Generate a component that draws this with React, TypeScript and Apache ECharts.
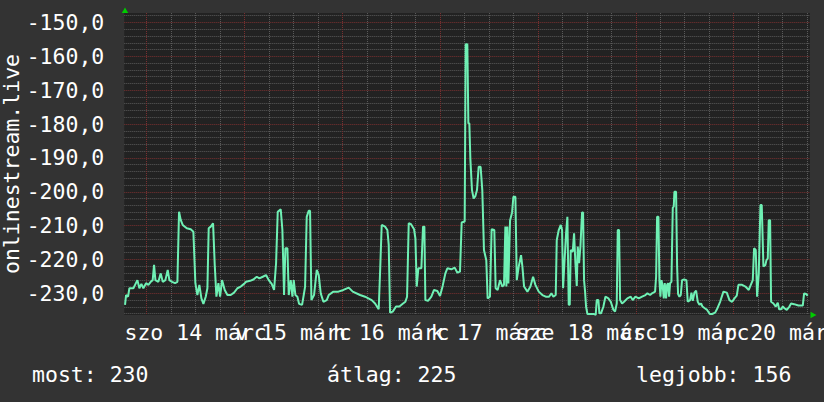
import React, { useEffect, useRef } from "react";
import * as echarts from "echarts";

// hours since 2015-03-14 00:00 (szombat)
const hours = [
  -5.32, -5.07, -4.58, -4.25, -3.27, -2.86, -2.29, -1.8, -1.31, -0.82, -0.16, 0.41, 0.98, 1.47, 1.8, 2.13, 2.86, 3.44, 3.93, 4.58,
  5.15, 5.56, 6.22, 6.95, 7.53, 7.93, 8.34, 8.83, 9.82, 10.8, 11.45, 11.94, 12.43, 12.92, 13.42, 13.91, 14.48, 14.89, 15.21, 15.71,
  16.28, 16.69, 17.1, 17.59, 18.0, 18.49, 19.14, 19.8, 20.61, 21.43, 22.25, 23.07, 23.89, 24.38, 25.36, 26.18, 27.0, 27.65, 28.47, 29.28,
  29.94, 30.67, 31.25, 31.74, 32.15, 32.88, 33.29, 33.7, 34.03, 34.52, 34.85, 35.34, 35.75, 36.07, 36.48, 36.97, 37.38, 38.12, 38.53, 38.86,
  39.26, 39.75, 40.08, 40.41, 41.06, 41.72, 42.21, 42.7, 43.35, 44.17, 44.66, 45.81, 47.03, 48.26, 49.57, 50.55, 52.35, 53.57, 54.39, 55.21,
  56.03, 56.92, 57.25, 57.66, 58.48, 59.05, 59.38, 59.71, 60.37, 61.18, 62.0, 62.82, 63.47, 63.88, 64.29, 64.86, 65.6, 65.93, 66.25, 66.66,
  67.39, 67.8, 68.13, 68.37, 69.03, 69.84, 70.5, 71.31, 71.97, 72.62, 73.28, 73.77, 74.75, 75.57, 76.22, 76.87, 77.28, 78.02, 78.26, 78.67,
  78.92, 79.16, 79.41, 79.81, 80.22, 80.63, 81.04, 81.45, 81.93, 82.34, 82.75, 83.32, 83.65, 84.22, 84.63, 85.29, 85.62, 86.11, 86.69, 87.26,
  87.67, 88.0, 88.25, 88.5, 88.74, 89.15, 89.65, 89.97, 90.46, 90.8, 91.28, 91.85, 92.18, 92.59, 93.41, 94.15, 94.8, 95.37, 96.19, 97.09,
  97.91, 98.72, 99.3, 99.79, 100.36, 100.61, 101.1, 101.59, 101.92, 102.16, 102.49, 102.9, 103.22, 103.55, 103.8, 104.04, 104.53, 104.86, 105.19, 105.52,
  105.76, 106.09, 106.42, 106.82, 107.07, 107.31, 107.56, 107.8, 108.13, 108.79, 109.76, 110.17, 110.42, 110.83, 111.07, 111.48, 112.06, 112.55, 113.28, 113.86,
  114.51, 114.92, 115.33, 115.58, 115.9, 116.15, 116.64, 117.12, 117.94, 118.76, 119.25, 119.91, 120.73, 121.55, 122.37, 122.86, 123.51, 124.0, 124.74, 124.99,
  125.23, 125.56, 125.8, 126.05, 126.3, 126.62, 126.87, 127.11, 127.44, 127.69, 127.93, 128.18, 128.42, 128.75, 129.08, 129.32, 129.48, 129.89, 130.14, 130.38,
  130.71, 131.04, 131.36, 131.85, 132.43, 132.75, 133.33, 133.66, 133.98, 134.39, 134.8, 135.21, 135.62, 136.03, 136.36, 136.93, 137.51, 138.15, 138.73, 139.47,
  140.04, 140.7, 141.51, 142.33, 142.99, 143.64, 144.21, 144.78, 145.19, 146.09, 146.91, 147.72, 148.22, 148.71, 149.03, 149.44, 149.77, 150.18, 150.59, 150.91,
  151.32, 151.81, 152.06, 152.39, 152.63, 152.96, 153.2, 153.78, 154.35, 154.84, 155.17, 155.66, 156.07, 156.48, 157.05, 157.7, 158.11, 158.85, 159.91, 160.98,
  161.3, 161.79, 162.2,
];

const values = [
  -233.4, -230.5, -231.0, -228.5, -228.5, -227.5, -226.1, -228.5, -227.2, -228.5, -227.0, -227.5, -226.6, -226.1, -221.6, -226.1, -226.6, -224.1, -226.6, -226.1,
  -223.1, -226.1, -226.6, -227.0, -226.6, -205.9, -208.3, -209.8, -210.8, -211.1, -211.8, -227.0, -230.5, -227.5, -231.5, -233.1, -231.0, -228.5, -210.8, -210.3,
  -209.3, -221.6, -231.0, -227.0, -231.0, -226.1, -229.0, -230.5, -230.5, -229.8, -228.5, -228.0, -227.2, -226.6, -226.3, -225.9, -225.1, -225.6, -225.1, -224.6,
  -226.1, -227.2, -229.0, -221.1, -205.9, -205.2, -211.3, -230.5, -216.7, -216.7, -230.5, -226.1, -231.0, -226.1, -230.5, -231.0, -233.1, -233.4, -230.5, -228.0,
  -207.4, -205.6, -205.6, -232.0, -230.5, -223.1, -224.6, -230.0, -232.5, -232.0, -230.5, -229.5, -229.5, -229.0, -228.3, -229.5, -230.5, -231.0, -231.5, -232.0,
  -233.0, -234.7, -224.1, -209.8, -210.3, -211.3, -215.7, -235.7, -235.4, -233.9, -233.9, -233.1, -232.5, -231.0, -209.3, -209.6, -211.1, -213.8, -228.0, -222.6,
  -222.6, -210.3, -210.3, -232.0, -232.2, -231.0, -229.0, -229.3, -230.8, -227.8, -224.1, -222.6, -222.9, -222.4, -223.9, -223.6, -209.1, -208.8, -156.4, -156.4,
  -179.8, -179.8, -190.2, -199.5, -202.0, -201.3, -199.5, -192.6, -192.6, -199.5, -217.2, -220.2, -231.5, -231.0, -211.1, -211.3, -228.5, -229.0, -226.1, -228.0,
  -227.5, -210.3, -228.0, -210.3, -227.1, -208.5, -206.1, -201.5, -201.5, -226.1, -222.1, -218.7, -222.1, -228.0, -229.5, -228.0, -225.1, -227.5, -229.5, -230.5,
  -231.0, -231.0, -230.0, -231.0, -230.5, -214.3, -211.3, -209.8, -211.3, -228.5, -221.1, -212.3, -207.4, -233.4, -233.4, -217.2, -217.7, -212.3, -221.1, -227.8,
  -216.2, -221.1, -216.2, -206.1, -206.1, -226.1, -229.5, -233.9, -236.1, -236.1, -236.1, -236.4, -232.0, -232.0, -235.9, -235.9, -233.9, -231.0, -231.5, -232.5,
  -234.9, -235.4, -233.0, -211.3, -211.3, -232.0, -233.0, -232.5, -231.5, -231.0, -232.0, -231.0, -231.5, -231.0, -230.5, -230.0, -230.5, -230.0, -229.5, -225.1,
  -207.4, -207.4, -226.1, -231.0, -226.1, -228.0, -231.5, -227.0, -231.5, -227.5, -227.0, -231.0, -227.0, -226.6, -204.7, -204.4, -200.0, -200.0, -222.1, -230.2,
  -231.0, -230.5, -226.1, -225.9, -226.1, -232.5, -232.0, -229.8, -232.2, -229.8, -229.2, -232.5, -233.4, -233.0, -233.9, -234.4, -234.9, -236.1, -236.1, -235.7,
  -234.4, -232.5, -229.5, -229.8, -232.0, -232.5, -231.5, -230.7, -227.5, -227.5, -228.0, -229.0, -227.5, -226.1, -216.7, -217.2, -231.0, -224.1, -203.9, -203.9,
  -222.1, -221.6, -220.2, -219.7, -208.4, -208.4, -232.5, -233.0, -233.9, -232.8, -234.7, -234.7, -233.9, -234.4, -234.9, -233.9, -233.0, -233.2, -233.6, -233.6,
  -230.0, -230.2, -230.7,
];

const dayLabels = ["szo 14 márc", "v 15 márc", "h 16 márc", "k 17 márc", "sze 18 márc", "cs 19 márc", "p 20 márc"];
const yAxisName = "onlinestream.live";
const legendLabels = ["most", "átlag", "legjobb"];
const legendValues = [230, 225, 156];

const FONT = '"DejaVu Sans Mono", monospace';
const FS = 21.5;

export default function App() {
  const ref = useRef<HTMLDivElement>(null);
  useEffect(() => {
    if (!ref.current) return;
    const chart = echarts.init(ref.current, null, { renderer: "svg" });
    const T = "rgba(0,0,0,0)";
    const GRAY = "#5a5a5a";
    const RED = "#7a3030";
    const xColors: string[] = [];
    for (let i = 0; i < 48; i++) {
      if (i === 11) xColors.push(RED);
      else if (i === 23 || i === 35 || i === 47) xColors.push(GRAY);
      else xColors.push(T);
    }
    const yColors: string[] = [];
    for (let i = 0; i < 25; i++) {
      if (i === 16) yColors.push(RED);
      else if (i === 1 || i === 6 || i === 11 || i === 21) yColors.push(GRAY);
      else yColors.push(T);
    }
    const legendX = [32, 327, 636];
    chart.setOption({
      animation: false,
      backgroundColor: "#333333",
      grid: {
        left: 124.3,
        right: 14,
        top: 13,
        bottom: 87,
        containLabel: false,
        outerBoundsMode: "none",
        show: true,
        backgroundColor: "#222222",
        borderWidth: 0,
      },
      xAxis: {
        type: "value",
        min: -5.5,
        max: 162.75,
        interval: 0.5,
        axisLine: { show: false },
        axisTick: { show: false },
        splitLine: { show: true, lineStyle: { color: xColors, type: [1, 1], width: 1 } },
        axisLabel: {
          color: "#ffffff",
          fontFamily: FONT,
          fontSize: FS,
          margin: 6.5,
          hideOverlap: false,
          formatter: (v: number) => {
            const k = Math.round(v * 2);
            if (((k % 48) + 48) % 48 !== 24) return "";
            const d = (k - 24) / 48;
            return dayLabels[d] ?? "";
          },
        },
      },
      yAxis: {
        type: "value",
        min: -236.4,
        max: -147.2,
        interval: 0.4,
        name: yAxisName,
        nameLocation: "middle",
        nameRotate: 90,
        nameGap: 102,
        nameMoveOverlap: false,
        nameTextStyle: { color: "#ffffff", fontFamily: FONT, fontSize: FS },
        axisLine: { show: false },
        axisTick: { show: false },
        splitLine: { show: true, lineStyle: { color: yColors, type: [1, 1], width: 1 } },
        axisLabel: {
          color: "#ffffff",
          fontFamily: FONT,
          fontSize: FS,
          margin: 20,
          formatter: (v: number) => {
            const k = Math.round(v * 10);
            if (k % 100 !== 0) return "";
            return (k / 10).toFixed(1).replace(".", ",");
          },
        },
      },
      graphic: [
        ...legendLabels.map((l, i) => ({
          type: "text",
          x: legendX[i],
          y: 374.5,
          style: {
            text: `${l}: ${legendValues[i]}`,
            fill: "#ffffff",
            font: `${FS}px ${FONT}`,
            textVerticalAlign: "middle",
          },
        })),
        { type: "polygon", shape: { points: [[121.8, 13], [128.2, 13], [125, 7.5]] }, style: { fill: "#00cc00" } },
        { type: "polygon", shape: { points: [[810.5, 311.8], [810.5, 318.2], [816.5, 315]] }, style: { fill: "#00cc00" } },
      ],
      series: [
        {
          type: "line",
          data: hours.map((h, i) => [h, values[i]]),
          showSymbol: false,
          clip: true,
          lineStyle: { color: "#6ff0b4", width: 2 },
          z: 5,
        },
      ],
    });
    return () => chart.dispose();
  }, []);
  return <div ref={ref} style={{ position: "fixed", left: 0, top: 0, width: 824, height: 402 }} />;
}
